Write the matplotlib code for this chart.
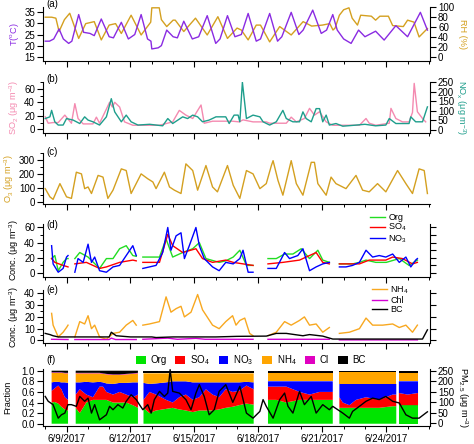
import datetime as dt
import numpy as np
import matplotlib
matplotlib.use("Agg")
import matplotlib.pyplot as plt
from matplotlib.ticker import FixedLocator, MultipleLocator
from matplotlib.patches import Patch

plt.rcParams['font.family'] = ['Liberation Sans', 'DejaVu Sans']
plt.rcParams['font.size'] = 7
plt.rcParams['mathtext.default'] = 'regular'
plt.rcParams['axes.linewidth'] = 0.8

nan = np.nan

# ---- data: (day since 6/8/2017 00:00, value) ----
temp = [(0.0, 22), (0.2, 22), (0.4, 23), (0.65, 27.5), (0.85, 23), (1.1, 21), (1.25, 22), (1.57, 34),
        (1.8, 26), (2.1, 25.5), (2.3, 24.5), (2.63, 32), (3.0, 24), (3.2, 23.5), (3.57, 30.5), (3.9, 23),
        (4.2, 25), (4.5, 34), (4.8, 23), (4.96, 22), (5.0, 18.5), (5.3, 19), (5.45, 20), (5.7, 27),
        (6.0, 24), (6.2, 23.5), (6.5, 31), (6.9, 23), (7.2, 24), (7.6, 33.5), (8.0, 21), (8.2, 23),
        (8.55, 33.5), (8.9, 24), (9.2, 25), (9.52, 34.5), (9.9, 22), (10.1, 23), (10.53, 34.5), (10.9, 22),
        (11.1, 24), (11.54, 35), (11.9, 25), (12.1, 27), (12.55, 36), (12.95, 25.5), (13.2, 27), (13.49, 34),
        (13.7, 27), (14.0, 23), (14.35, 21), (14.7, 27), (15.0, 24), (15.5, 26.5), (15.9, 22.5), (16.45, 29),
        (17.0, 24), (17.6, 35), (17.93, 27)]
rh = [(0.0, 80), (0.3, 80), (0.5, 78), (0.65, 51), (0.9, 75), (1.15, 88), (1.57, 37), (1.9, 67), (2.3, 71),
      (2.63, 34), (3.0, 64), (3.3, 67), (3.57, 47), (4.03, 84), (4.5, 44), (4.95, 70), (5.0, 99), (5.35, 99),
      (5.45, 75), (5.7, 61), (6.0, 74), (6.1, 74), (6.5, 51), (7.05, 78), (7.6, 44), (8.1, 81), (8.55, 37),
      (9.0, 58), (9.2, 54), (9.52, 34), (9.9, 64), (10.1, 64), (10.53, 30), (11.0, 61), (11.54, 44),
      (12.1, 71), (12.5, 62), (13.0, 64), (13.35, 67), (13.5, 54), (13.6, 58), (13.8, 84), (14.0, 95),
      (14.25, 99), (14.4, 78), (14.65, 64), (14.8, 84), (15.3, 82), (15.5, 74), (15.7, 82), (16.1, 82),
      (16.3, 63), (16.8, 61), (17.0, 74), (17.3, 70), (17.54, 40), (17.93, 57)]
so2 = [(0.0, 18.5), (0.14, 9), (0.37, 10), (0.61, 10), (0.92, 21), (1.23, 9), (1.39, 38), (1.54, 16),
       (1.78, 8), (2.24, 8), (2.4, 18), (2.55, 9), (2.87, 30), (3.02, 40), (3.15, 33), (3.26, 40), (3.49, 33),
       (3.72, 11), (4.11, 6), (5.36, 6), (5.98, 11), (6.29, 28), (6.6, 21), (6.92, 16), (7.31, 36), (7.46, 9),
       (7.85, 12), (8.79, 12), (9.1, 11), (9.28, 14), (9.75, 11), (10.37, 11), (10.53, 9), (11.31, 9),
       (11.54, 18), (11.78, 11), (12.16, 16), (12.4, 31), (12.63, 21), (12.87, 26), (13.18, 11), (13.49, 6),
       (14.74, 6), (15.05, 16), (15.2, 9), (15.51, 6), (16.14, 9), (16.22, 31), (16.45, 16), (16.76, 11),
       (17.07, 11), (17.23, 25), (17.31, 68), (17.46, 26), (17.7, 16), (17.85, 11)]
nox = [(0.0, 60), (0.22, 69), (0.3, 103), (0.45, 43), (0.61, 26), (0.84, 26), (1.0, 60), (1.31, 52),
       (1.62, 34), (1.85, 69), (2.01, 52), (2.24, 43), (2.55, 26), (2.87, 69), (3.1, 164), (3.26, 95),
       (3.57, 43), (3.8, 78), (4.03, 43), (4.35, 26), (4.9, 30), (5.51, 22), (5.75, 60), (5.98, 34), (6.45, 69),
       (6.68, 60), (6.92, 78), (7.15, 69), (7.38, 43), (7.69, 52), (8.01, 69), (8.47, 69), (8.63, 34),
       (8.86, 78), (9.05, 78), (9.13, 43), (9.25, 250), (9.44, 60), (9.75, 78), (10.07, 69), (10.22, 43),
       (10.53, 26), (10.84, 43), (11.15, 103), (11.31, 60), (11.62, 43), (11.93, 43), (12.09, 95),
       (12.24, 60), (12.48, 43), (12.71, 112), (12.87, 112), (13.02, 43), (13.18, 78), (13.33, 26),
       (13.64, 34), (13.96, 20), (14.5, 25), (15.0, 30), (15.5, 22), (15.98, 26), (16.14, 60), (16.45, 34),
       (17.07, 34), (17.15, 69), (17.38, 43), (17.7, 43), (17.93, 121)]
o3 = [(0.0, 94), (0.22, 35), (0.37, 17), (0.69, 130), (1.0, 35), (1.23, 24), (1.46, 212), (1.7, 200),
      (1.85, 94), (2.01, 106), (2.17, 59), (2.48, 189), (2.71, 177), (2.94, 24), (3.18, 83), (3.57, 236),
      (3.8, 224), (4.03, 59), (4.5, 200), (4.81, 165), (5.05, 142), (5.2, 94), (5.59, 212), (5.83, 106),
      (6.06, 83), (6.37, 59), (6.6, 272), (6.92, 224), (7.15, 83), (7.54, 260), (7.85, 106), (8.08, 71),
      (8.55, 260), (8.82, 118), (9.13, 24), (9.44, 224), (9.75, 200), (10.07, 94), (10.37, 130), (10.61, 260),
      (10.69, 295), (10.92, 153), (11.15, 47), (11.54, 295), (11.78, 130), (12.09, 47), (12.48, 283),
      (12.63, 283), (12.79, 130), (13.18, 47), (13.41, 177), (13.64, 130), (14.11, 94), (14.58, 189),
      (14.89, 83), (15.2, 71), (15.59, 130), (15.98, 71), (16.53, 224), (16.92, 130), (17.23, 59),
      (17.54, 236), (17.78, 224), (17.93, 59)]

# aerosol species (nan = no data)
org = [(0.3, 19), (0.45, 23), (0.61, 3), (0.84, 14), (1.0, 19), (1.07, 19), (1.2, nan),
       (1.39, 19), (1.62, 27), (2.01, 21), (2.55, 6), (2.87, 19), (3.18, 19), (3.49, 32), (3.8, 36),
       (4.11, 23), (4.27, 22), (4.45, nan),
       (4.58, 21), (5.36, 21), (5.67, 45), (5.98, 21), (6.45, 27), (6.92, 32), (7.23, 40), (7.54, 19),
       (8.16, 14), (8.47, 16), (8.82, 21), (9.13, 30), (9.44, 10), (9.75, 10), (10.1, nan),
       (10.45, 19), (10.84, 19), (11.23, 25), (11.62, 25), (12.01, 32), (12.4, 19), (12.79, 30),
       (13.02, 17), (13.33, 14), (13.6, nan),
       (13.8, 12), (14.42, 12), (14.74, 14), (15.05, 17), (15.51, 14), (16.0, 14), (16.61, 19),
       (17.07, 10), (17.46, 17)]
so4 = [(0.3, 19), (0.45, 14), (0.84, 10), (1.07, 8), (1.2, nan),
       (1.39, 12), (1.93, 14), (2.55, 6), (2.87, 8), (3.49, 14), (4.11, 17), (4.27, 16), (4.45, nan),
       (4.58, 14), (5.36, 14), (5.75, 51), (5.98, 36), (6.45, 27), (7.07, 32), (7.38, 19), (7.85, 14),
       (8.47, 17), (8.82, 14), (9.75, 10), (10.1, nan),
       (10.45, 12), (11.15, 14), (11.93, 17), (12.71, 27), (13.02, 14), (13.33, 12), (13.6, nan),
       (13.8, 12), (14.74, 12), (15.2, 17), (15.98, 17), (16.3, 21), (16.76, 19), (17.23, 12), (17.46, 14)]
no3 = [(0.3, 36), (0.37, 12), (0.61, 1), (0.84, 6), (1.0, 21), (1.07, 23), (1.2, nan),
       (1.39, 1), (1.54, 19), (1.78, 14), (2.01, 38), (2.17, 14), (2.32, 21), (2.55, 3), (2.87, 1),
       (3.18, 8), (3.49, 10), (3.8, 23), (4.11, 36), (4.27, 23), (4.45, nan),
       (4.58, 6), (4.89, 8), (5.2, 10), (5.51, 27), (5.75, 60), (5.9, 30), (6.14, 49), (6.37, 53),
       (6.53, 19), (6.76, 36), (7.07, 60), (7.23, 36), (7.46, 19), (7.85, 8), (8.16, 3), (8.47, 14),
       (8.82, 12), (9.13, 19), (9.28, 30), (9.52, 1), (9.75, 1), (10.1, nan),
       (10.45, 6), (10.84, 6), (11.23, 27), (11.46, 19), (11.85, 23), (12.09, 32), (12.4, 3), (12.71, 8),
       (13.02, 12), (13.33, 14), (13.6, nan),
       (13.8, 8), (14.11, 8), (14.42, 10), (14.74, 14), (15.05, 30), (15.36, 21), (15.67, 23), (15.98, 21),
       (16.3, 25), (16.61, 14), (16.92, 21), (17.15, 8), (17.38, 17), (17.46, 19)]
nh4 = [(0.3, 23), (0.37, 13), (0.61, 3), (0.84, 7), (1.0, 11), (1.07, 13), (1.2, nan),
       (1.39, 3), (1.62, 16), (1.85, 14), (2.01, 21), (2.17, 10), (2.32, 13), (2.55, 3), (2.87, 1),
       (3.18, 6), (3.49, 7), (3.8, 13), (4.11, 17), (4.27, 13), (4.45, nan),
       (4.58, 13), (4.89, 14), (5.36, 16), (5.67, 37), (5.9, 24), (6.14, 27), (6.37, 29), (6.53, 20),
       (6.84, 24), (7.15, 39), (7.38, 26), (7.85, 13), (8.16, 10), (8.47, 16), (8.79, 21), (8.95, 13),
       (9.13, 17), (9.36, 19), (9.59, 6), (9.75, 4), (10.1, nan),
       (10.45, 4), (10.84, 7), (11.23, 16), (11.54, 13), (11.93, 17), (12.16, 20), (12.4, 13), (12.71, 14),
       (13.02, 7), (13.33, 11), (13.6, nan),
       (13.8, 6), (14.27, 7), (14.74, 10), (15.05, 19), (15.36, 13), (15.83, 13), (16.3, 14), (16.61, 11),
       (16.92, 13), (17.23, 7), (17.46, 13)]
chl = [(0.3, 1.0), (1.07, 0.8), (1.2, nan), (1.39, 0.8), (3.0, 0.8), (3.1, 2.0), (3.3, 0.8), (4.27, 0.8),
       (4.45, nan), (4.58, 1.0), (5.75, 2.0), (6.2, 1.0), (7.07, 1.8), (7.5, 1.0), (9.75, 1.0), (10.1, nan),
       (10.45, 1.0), (13.33, 1.0), (13.6, nan), (13.8, 0.5), (17.46, 0.5)]
bc = [(0.0, 6), (0.22, 5), (0.37, 4), (0.61, 3), (1.0, 3), (3.0, 3), (3.1, 7), (3.33, 4), (4.0, 3),
      (5.0, 3), (5.2, 2.5), (6.0, 3), (7.0, 3), (8.0, 3), (9.0, 3.5), (10.37, 3.7), (10.84, 6), (11.31, 6),
      (12.09, 4), (12.4, 5), (13.02, 3.7), (13.49, 1.2), (17.7, 1.2), (17.93, 9)]
pm25 = [(0.0, 128), (0.14, 105), (0.37, 89), (0.61, 25), (0.76, 41), (0.92, 49), (1.07, 89), (1.23, 89),
        (1.46, 81), (1.62, 128), (1.85, 105), (2.01, 120), (2.17, 49), (2.32, 89), (2.55, 17), (2.87, 41),
        (3.02, 81), (3.18, 65), (3.41, 89), (3.64, 73), (3.8, 105), (4.03, 136), (4.27, 113), (4.42, 89),
        (4.58, 65), (4.81, 89), (4.97, 49), (5.12, 113), (5.36, 152), (5.59, 128), (5.75, 144), (5.86, 255),
        (5.98, 152), (6.29, 144), (6.6, 113), (6.84, 65), (7.07, 144), (7.23, 184), (7.46, 128), (7.69, 41),
        (7.93, 65), (8.16, 152), (8.47, 184), (8.8, 100), (9.13, 176), (9.44, 49), (9.75, 25), (10.07, 57),
        (10.22, 113), (10.37, 81), (10.69, 25), (11.0, 113), (11.23, 144), (11.39, 81), (11.62, 49),
        (11.93, 152), (12.16, 89), (12.48, 128), (12.71, 49), (13.02, 89), (13.33, 65), (13.49, 81),
        (13.96, 49), (14.27, 25), (14.42, 57), (14.74, 81), (15.05, 105), (15.36, 120), (15.67, 113),
        (15.98, 128), (16.3, 105), (16.61, 97), (16.92, 41), (17.23, 25), (17.54, 25), (17.85, 49), (17.93, 55)]

# mass fractions: day, Org, SO4, NO3, NH4, Cl, BC
frac = [(0.3, .40, .22, .16, .18, .01, .03), (0.45, .41, .26, .12, .17, .01, .03),
        (0.61, .38, .34, .07, .17, .01, .03), (0.76, .32, .33, .13, .18, .01, .03),
        (0.92, .27, .23, .28, .17, .01, .04), (1.07, .25, .20, .32, .18, .01, .04),
        (1.25, nan, nan, nan, nan, nan, nan),
        (1.43, .30, .25, .23, .17, .01, .04), (1.62, .20, .45, .13, .17, .01, .04),
        (1.93, .40, .15, .24, .16, .01, .04), (2.24, .45, .05, .28, .17, .01, .04),
        (2.55, .45, .25, .09, .16, .01, .04), (2.71, .45, .25, .08, .16, .01, .05),
        (2.87, .45, .15, .16, .17, .01, .06), (3.18, .40, .15, .20, .17, .01, .07),
        (3.49, .40, .20, .17, .15, .01, .07), (3.8, .40, .15, .22, .16, .01, .06),
        (4.11, .35, .15, .28, .16, .01, .05), (4.35, .30, .25, .23, .17, .01, .04),
        (4.48, nan, nan, nan, nan, nan, nan),
        (4.61, .30, .15, .32, .18, .01, .04), (4.89, .20, .40, .15, .20, .01, .04),
        (5.2, .25, .30, .21, .19, .01, .04), (5.67, .28, .17, .33, .17, .01, .04),
        (5.98, .30, .10, .40, .15, .01, .04), (6.29, .27, .23, .30, .15, .01, .04),
        (6.6, .25, .30, .25, .15, .01, .04), (6.92, .22, .23, .33, .17, .01, .04),
        (7.23, .25, .25, .28, .17, .01, .04), (7.54, .25, .40, .13, .17, .01, .04),
        (7.85, .25, .30, .23, .17, .01, .04), (8.16, .27, .23, .28, .17, .01, .04),
        (8.47, .30, .35, .13, .17, .01, .04), (8.79, .32, .28, .18, .17, .01, .04),
        (9.1, .35, .27, .16, .17, .01, .04), (9.44, .38, .34, .07, .16, .01, .04),
        (9.78, .36, .29, .13, .17, .01, .04),
        (10.1, nan, nan, nan, nan, nan, nan),
        (10.45, .45, .25, .10, .15, .01, .04), (10.84, .45, .25, .10, .15, .01, .04),
        (11.31, .40, .30, .10, .15, .01, .04), (11.93, .45, .15, .20, .15, .01, .04),
        (12.4, .45, .10, .25, .15, .01, .04), (12.87, .45, .15, .20, .15, .01, .04),
        (13.49, .45, .15, .20, .15, .01, .04),
        (13.65, nan, nan, nan, nan, nan, nan),
        (13.8, .30, .20, .25, .22, .01, .02), (13.96, .30, .10, .35, .22, .01, .02),
        (14.27, .30, .05, .40, .22, .01, .02), (14.58, .30, .15, .30, .22, .01, .02),
        (15.05, .30, .20, .25, .22, .01, .02), (15.67, .30, .15, .30, .22, .01, .02),
        (16.3, .33, .22, .20, .22, .01, .02), (16.47, .33, .22, .20, .22, .01, .02),
        (16.53, nan, nan, nan, nan, nan, nan),
        (16.59, .35, .23, .22, .15, .01, .04), (17.0, .35, .20, .25, .15, .01, .04),
        (17.49, .35, .23, .22, .15, .01, .04)]

species = ['Org', 'SO$_4$', 'NO$_3$', 'NH$_4$', 'Cl', 'BC']
species_colors = ['#00E400', '#FF0000', '#0000FF', '#FFA500', '#E000C0', '#000000']
date_ticks = ['2017-06-09', '2017-06-12', '2017-06-15', '2017-06-18', '2017-06-21', '2017-06-24']

base = dt.datetime(2017, 6, 8)


def series(pairs):
    arr = np.array(pairs, dtype=float)
    t = [base + dt.timedelta(days=d) for d in arr[:, 0]]
    return t, arr[:, 1:] if arr.shape[1] > 2 else arr[:, 1]


purple = '#8A2BE2'
gold = '#D4A020'
pink = '#F48AB0'
teal = '#1E9E8C'
LAB = 6.6   # axis title size

fig = plt.figure(figsize=(4.74, 4.44), dpi=100)
L, W = 0.090, 0.818
rects = {'a': (0.8626, 0.1216), 'b': (0.6998, 0.1165), 'c': (0.5399, 0.1155),
         'd': (0.3768, 0.1187), 'e': (0.2268, 0.12), 'f': (0.0405, 0.1277)}
x0 = base - dt.timedelta(days=0.12)
x1 = base + dt.timedelta(days=18.07)
major = [dt.datetime.strptime(s, '%Y-%m-%d') for s in date_ticks]
minor = [base + dt.timedelta(days=i) for i in range(19)]


def make_ax(key, ylim, yticks, yminor=None, lab_off=0.0):
    b, h = rects[key]
    ax = fig.add_axes([L, b, W, h])
    ax.set_xlim(x0, x1)
    ax.set_ylim(*ylim)
    for s in ['top', 'right']:
        ax.spines[s].set_visible(False)
    ax.xaxis.set_major_locator(FixedLocator([matplotlib.dates.date2num(d) for d in major]))
    ax.xaxis.set_minor_locator(FixedLocator([matplotlib.dates.date2num(d) for d in minor]))
    ax.set_yticks(yticks)
    if yminor:
        ax.yaxis.set_minor_locator(MultipleLocator(yminor))
    ax.tick_params(which='major', direction='out', length=4, width=0.8, pad=1.5)
    ax.tick_params(which='minor', direction='out', length=2.2, width=0.7)
    ax.set_xticklabels([])
    ax.text(0.01, 1.0 + lab_off / (h * 444), '(%s)' % key, transform=ax.transAxes,
            ha='left', va='center')
    return ax


def make_twin(ax, ylim, yticks=None, labels=True, yminor=None):
    tw = ax.twinx()
    tw.set_ylim(*ylim)
    for s in ['top', 'left', 'bottom']:
        tw.spines[s].set_visible(False)
    if yticks is not None:
        tw.set_yticks(yticks)
    if yminor:
        tw.yaxis.set_minor_locator(MultipleLocator(yminor))
    tw.tick_params(which='major', direction='out', length=4, width=0.8, pad=1.5)
    tw.tick_params(which='minor', direction='out', length=2.2, width=0.7)
    if not labels:
        tw.set_yticklabels([])
    return tw


ulabel = ' (\u03bcg m$^{-3}$)'

# (a) T and RH
ax = make_ax('a', (13.06, 37.4), [15, 20, 25, 30, 35], lab_off=3)
tw = make_twin(ax, (-8.7, 100.6), [0, 20, 40, 60, 80, 100])
t, v = series(rh)
tw.plot(t, v, color=gold, lw=1.0)
t, v = series(temp)
ax.plot(t, v, color=purple, lw=1.0)
ax.set_zorder(tw.get_zorder() + 1)
ax.patch.set_visible(False)
ax.set_ylabel('T($^o$C)', color=purple, labelpad=2, fontsize=LAB)
tw.set_ylabel('RH (%)', color=gold, rotation=270, labelpad=9, fontsize=LAB)

# (b) SO2 and NOx
ax = make_ax('b', (-5.9, 70.7), [0, 20, 40, 60], 10, lab_off=3)
tw = make_twin(ax, (-17.1, 253.6), [0, 50, 100, 150, 200, 250])
t, v = series(so2)
ax.plot(t, v, color=pink, lw=1.0)
t, v = series(nox)
tw.plot(t, v, color=teal, lw=1.0)
ax.set_ylabel('SO$_2$' + ulabel, color=pink, labelpad=2, fontsize=LAB)
tw.set_ylabel('NO$_x$' + ulabel, color=teal, rotation=270, labelpad=10, fontsize=LAB)

# (c) O3
ax = make_ax('c', (-18.4, 350), [0, 100, 200, 300], 50, lab_off=1)
t, v = series(o3)
ax.plot(t, v, color=gold, lw=1.0)
ax.set_ylabel('O$_3$' + ulabel, color=gold, labelpad=2, fontsize=LAB)

# (d) Org, SO4, NO3
ax = make_ax('d', (-4.9, 64.6), [0, 20, 40, 60], 10, lab_off=-1)
make_twin(ax, (-4.9, 64.6), [0, 10, 20, 30, 40, 50, 60], labels=False)
for pairs, col, lab in [(org, '#22DD22', 'Org'), (so4, '#FF0000', 'SO$_4$'), (no3, '#0000FF', 'NO$_3$')]:
    t, v = series(pairs)
    ax.plot(t, v, color=col, lw=1.0, label=lab)
ax.set_ylabel('Conc.' + ulabel, labelpad=2, fontsize=LAB)
ax.legend(loc='upper left', bbox_to_anchor=(0.845, 1.21), frameon=False, handlelength=1.6,
          handletextpad=0.4, labelspacing=0.0, borderpad=0, borderaxespad=0, fontsize=6.5)

# (e) NH4, Chl, BC
ax = make_ax('e', (-2.4, 42.8), [0, 10, 20, 30, 40], 5, lab_off=0)
make_twin(ax, (-2.4, 42.8), [0, 10, 20, 30, 40], labels=False)
for pairs, col, lab in [(nh4, '#F8A820', 'NH$_4$'), (chl, '#D400D4', 'Chl'), (bc, '#000000', 'BC')]:
    t, v = series(pairs)
    ax.plot(t, v, color=col, lw=1.0, label=lab)
ax.set_ylabel('Conc.' + ulabel, labelpad=2, fontsize=LAB)
ax.legend(loc='upper left', bbox_to_anchor=(0.85, 1.11), frameon=False, handlelength=1.6,
          handletextpad=0.4, labelspacing=0.0, borderpad=0, borderaxespad=0, fontsize=6.5)

# (f) fractions and PM2.5
ax = make_ax('f', (-0.043, 1.026), [0, 0.2, 0.4, 0.6, 0.8, 1.0], lab_off=9)
ax.yaxis.set_major_formatter(matplotlib.ticker.FormatStrFormatter('%.1f'))
t, fr = series(frac)
cum = np.cumsum(fr, axis=1)
lower = np.zeros(len(t))
lower[np.isnan(cum[:, 0])] = nan
for i, col in enumerate(species_colors):
    ax.fill_between(t, lower, cum[:, i], color=col, lw=0)
    lower = cum[:, i]
tw = make_twin(ax, (-12.4, 256.7), [0, 50, 100, 150, 200, 250])
t, v = series(pm25)
tw.plot(t, v, color='black', lw=1.0)
ax.set_ylabel('Fraction', labelpad=7, fontsize=LAB)
tw.set_ylabel('PM$_{2.5}$' + ulabel, rotation=270, labelpad=11, fontsize=LAB)
ax.set_xticklabels(['%d/%d/%d' % (d.month, d.day, d.year) for d in major])
handles = [Patch(facecolor=c, edgecolor='none') for c in species_colors]
ax.legend(handles, species, loc='center', bbox_to_anchor=(0.537, 1.16), ncol=6, frameon=False,
          handlelength=1.0, handleheight=0.75, handletextpad=0.5, columnspacing=0.9, borderpad=0,
          borderaxespad=0, fontsize=7)

fig.savefig('out.png', dpi=100)
